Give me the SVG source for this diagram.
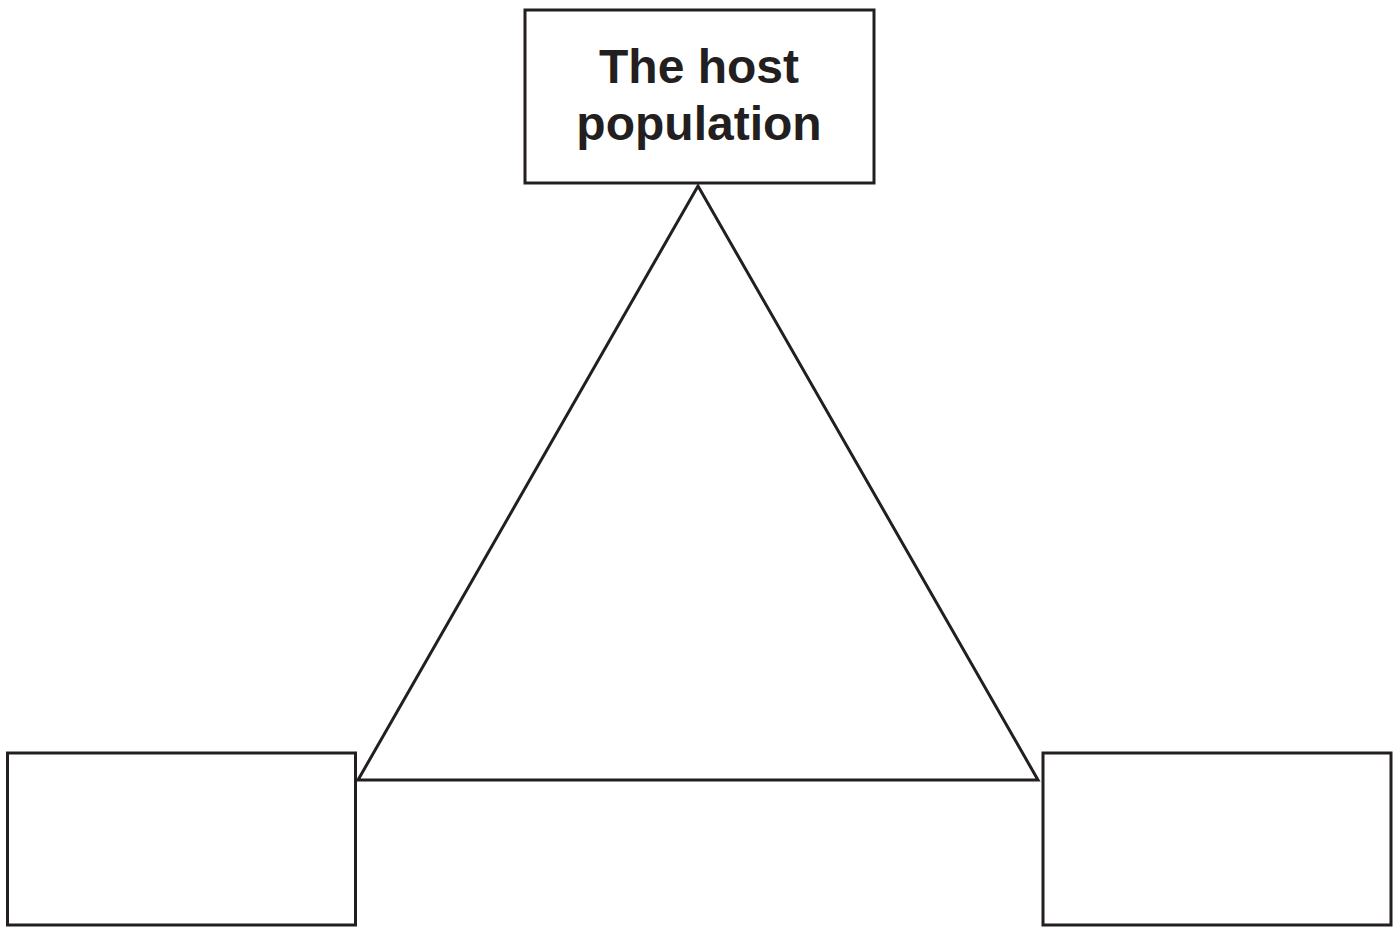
<svg xmlns="http://www.w3.org/2000/svg" width="1399" height="927" viewBox="0 0 1399 927">
<style>
.box{fill:#fff;stroke:#231f20;stroke-width:3}
.edge{fill:none;stroke:#231f20;stroke-width:3;stroke-linejoin:miter}
.lbl{font-family:"Liberation Sans",Arial,sans-serif;font-weight:bold;font-size:48px;fill:#231f20;text-anchor:middle}
</style>
<rect width="1399" height="927" fill="#fff"/>
<g id="connectors">
<path class="edge" d="M698,186 L358,780 L1038,780 Z"/>
</g>
<g id="host">
<rect class="box" x="525" y="10" width="349" height="173"/>
<text class="lbl" x="699" y="83">The host</text>
<text class="lbl" x="699" y="140">population</text>
</g>
<g id="left">
<rect class="box" x="7.5" y="753" width="348" height="172"/>
</g>
<g id="right">
<rect class="box" x="1043" y="753" width="348" height="172"/>
</g>
</svg>
